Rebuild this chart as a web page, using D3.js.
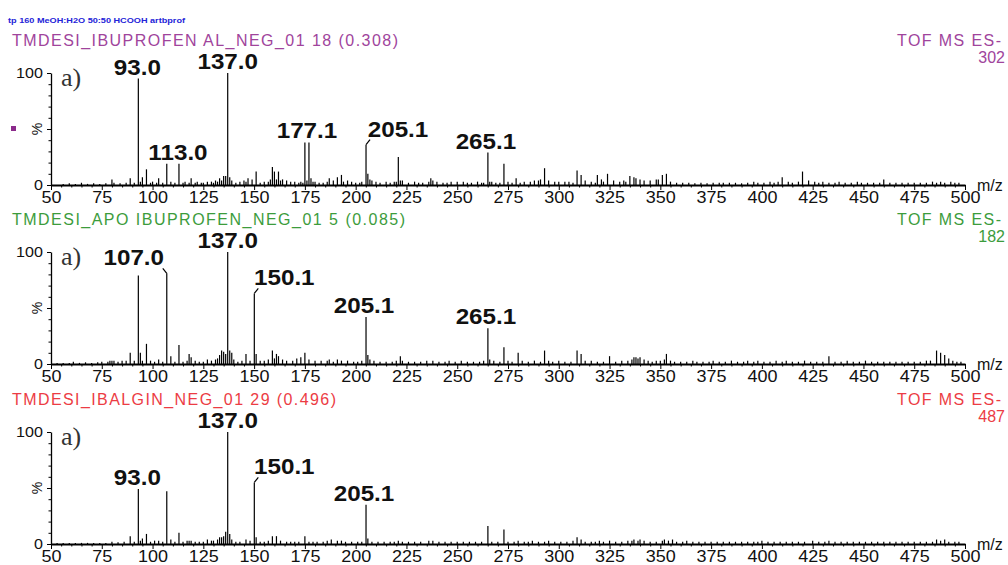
<!DOCTYPE html>
<html>
<head>
<meta charset="utf-8">
<script src="https://cdn.jsdelivr.net/npm/d3@7"></script>
<style>
  body { margin: 0; background: #fff; }
  svg { display: block; }
</style>
</head>
<body>
<div id="chart"></div>
<script>
// ---- data: [m/z, relative intensity %] ----
const peaks1 = [
  [56,1],[59,1.5],[62,1],[65,2],[68,1],[71,1.5],[74,1],[77,1.5],[80,5],[81,2],[84,1.5],[87,2],[89,6],[91,2],
  [93,95],[94,3],[95,7],[97,14],[99,2],[100,3],[102,2],[103,6],[105,2],[107,19],[109,3],[111,2],[113,19],
  [115,2],[116,3],[118,2],[119,6],[121,2],[122,3],[124,2],[125,2],[127,3],[129,3],[130,2],[131,4],[132,3],
  [133,6],[134,4],[135,8],[136,8],[137,100],[138,7],[139,4],[141,2],[143,3],[145,4],[146,3],[147,6],[149,5],
  [151,12],[153,2],[155,3],[157,3],[158,5],[159,16],[160,12],[161,5],[162,12],[163,4],[164,5],[166,4],
  [168,3],[170,3],[172,2],[173,3],[174,2],[175,38],[176,4],[177,38],[178,6],[179,3],[180,3],[182,2],[184,2],
  [186,3],[187,6],[189,4],[191,7],[193,9],[194,3],[196,4],[198,3],[200,2],[202,2],[203,3],[205.1,36],
  [206,10],[207,5],[208,4],[210,3],[212,2],[215,3],[217,2],[219,3],[220,3],[221,25],[222,4],[223,4],[226,2],
  [229,3],[231,2],[233,2],[236,3],[237,6],[238,4],[240,3],[243,2],[245,2],[247,3],[250,3],[253,3],[255,2],
  [257,2],[260,3],[262,2],[263,2],[265.1,29],[266,3],[267,3],[269,2],[271,2],[273,19],[275,3],[277,2],
  [279,6],[281,2],[283,3],[286,3],[288,4],[290,4],[291,5],[293,15],[295,4],[298,3],[300,3],[303,3],[305,3],
  [307,2],[309,13],[311,9],[313,4],[316,3],[318,2],[319,9],[321,5],[322,3],[324,10],[327,4],[330,3],[332,4],
  [333,3],[335,8],[337,7],[338,6],[340,5],[342,4],[345,4],[348,5],[349,5],[351,9],[353,10],[355,3],[358,2],
  [361,2],[364,2],[367,1.5],[370,2],[373,1.5],[376,2],[379,2],[381,2],[384,2],[387,2],[390,1.5],[393,2],
  [396,3],[398,2],[401,2],[404,3],[406,2],[408,3],[410,7],[413,3],[415,2],[418,3],[420,12],[423,4],[426,3],
  [428,2],[430,3],[433,2],[436,2],[438,3],[441,2],[444,2],[447,3],[449,2],[452,2],[455,2],[458,2],[460,5],
  [463,2],[466,2],[469,2],[472,2],[475,2],[478,2],[481,2],[484,3],[486,2],[488,3],[490,2],[493,3],[495,2],[497,2]
];
const peaks2 = [
  [53,1],[56,1],[59,1],[61,2],[64,1],[67,1.5],[70,1],[73,1.5],[75,2],[78,2],[79,3],[80,3],[81,3],[83,2],
  [85,3],[87,3],[89,10],[91,3],[93,79],[94,10],[95,3],[97,18],[99,3],[101,2],[103,4],[105,2],[107,81],
  [109,7],[111,2],[113,17],[115,2],[117,3],[118,9],[119,6],[121,3],[123,2],[125,2],[127,4],[129,3],[131,4],
  [132,5],[133,8],[134,12],[135,11],[136,9],[137,100],[138,12],[139,10],[140,4],[142,2],[144,3],[146,9],
  [148,3],[150.1,63],[151,9],[153,3],[155,3],[157,4],[159,12],[160,5],[161,9],[162,7],[164,4],[166,3],
  [169,3],[171,5],[173,6],[175,10],[177,4],[180,3],[183,3],[186,3],[187,4],[189,2],[191,4],[193,3],[196,3],
  [199,2],[201,2],[203,3],[205.1,42],[206,8],[207,4],[209,3],[212,2],[215,2],[218,2],[220,3],[222,7],
  [223,3],[226,2],[229,2],[232,2],[235,3],[238,3],[241,2],[244,2],[246,3],[249,2],[252,3],[255,2],[258,2],
  [261,2],[263,3],[265.1,32],[266,4],[268,3],[271,2],[273,15],[275,3],[277,2],[280,10],[282,3],[285,2],
  [288,3],[291,2],[293,12],[295,3],[297,2],[300,3],[303,2],[306,2],[309,12],[311,9],[313,3],[316,3],[319,2],
  [322,2],[325,7],[328,2],[331,3],[334,3],[336,4],[337,6],[338,6],[339,5],[340,6],[342,4],[344,3],[346,2],
  [348,3],[350,3],[352,4],[353,9],[355,3],[357,2],[360,2],[363,2],[366,3],[368,2],[371,2],[374,2],[376,3],
  [379,2],[382,2],[385,3],[388,2],[391,2],[393,3],[396,2],[398,3],[401,2],[404,2],[407,3],[410,2],[412,3],
  [415,2],[418,2],[421,3],[424,2],[427,2],[430,2],[433,7],[436,2],[439,2],[442,3],[445,2],[448,2],[451,3],
  [454,2],[457,2],[460,2],[463,2],[466,2],[469,2],[472,2],[475,2],[478,2],[481,3],[483,3],[486,12],[488,10],
  [490,8],[492,5],[494,3],[496,2],[498,2]
];
const peaks3 = [
  [53,1],[56,1],[59,1],[62,1],[65,1],[68,1],[71,1],[74,1],[77,1],[80,2],[83,1.5],[86,2],[89,7],[91,2],
  [93,49],[94,3],[95,5],[97,9],[99,2],[101,3],[103,3],[105,2],[107,47],[109,4],[111,2],[113,10],[115,2],
  [117,3],[118,3],[119,3],[121,2],[123,2],[125,2],[127,4],[129,3],[130,3],[132,4],[133,6],[134,6],[135,7],
  [136,11],[137,100],[138,9],[139,4],[141,2],[143,2],[146,4],[148,3],[150.1,55],[151,6],[153,2],[155,2],
  [157,3],[159,7],[161,7],[163,3],[166,2],[168,2],[170,2],[172,2],[175,7],[177,2],[179,2],[181,2],[184,2],
  [186,3],[188,4],[191,3],[193,3],[195,2],[198,2],[201,2],[203,2],[205.1,35],[206,5],[208,2],[211,2],[214,2],
  [217,2],[219,2],[221,3],[223,2],[226,2],[229,2],[232,2],[236,3],[238,3],[241,2],[244,2],[247,2],[250,2],
  [253,2],[256,2],[259,2],[262,2],[265.1,16],[267,2],[270,2],[273,13],[275,2],[278,2],[280,3],[283,2],
  [285,2],[287,3],[290,2],[293,2],[295,3],[298,2],[301,2],[304,2],[307,3],[309,6],[311,4],[313,2],[316,2],
  [318,2],[320,3],[322,2],[325,3],[328,2],[331,2],[334,3],[336,3],[337,4],[339,3],[340,4],[342,3],[345,2],
  [348,2],[351,3],[352,4],[354,3],[356,4],[358,2],[361,2],[363,3],[366,2],[369,2],[372,2],[375,2],[378,2],
  [381,2],[384,2],[387,2],[390,2],[393,2],[396,2],[398,2],[400,3],[403,2],[406,2],[409,2],[412,2],[415,2],
  [418,2],[421,2],[425,3],[428,2],[431,2],[433,3],[436,2],[439,2],[442,2],[445,2],[448,2],[451,2],[454,2],
  [457,2],[460,2],[463,2],[466,2],[469,2],[472,2],[475,2],[478,2],[481,2],[484,2],[486,4],[488,3],[490,4],
  [492,2],[495,2],[497,2]
];

// labelled peaks: [m/z of peak, label text]
const labels1 = [[93,"93.0"],[113,"113.0"],[137,"137.0"],[177,"177.1"],[205.1,"205.1"],[265.1,"265.1"]];
const labels2 = [[107,"107.0"],[137,"137.0"],[150.1,"150.1"],[205.1,"205.1"],[265.1,"265.1"]];
const labels3 = [[93,"93.0"],[137,"137.0"],[150.1,"150.1"],[205.1,"205.1"]];

const titles = [
  "TMDESI_IBUPROFEN AL_NEG_01 18 (0.308)",
  "TMDESI_APO IBUPROFEN_NEG_01 5 (0.085)",
  "TMDESI_IBALGIN_NEG_01 29 (0.496)"
];
const scanMode = "TOF MS ES-";
const scaleMax = ["302", "182", "487"];
const xTicks = [50,75,100,125,150,175,200,225,250,275,300,325,350,375,400,425,450,475,500];
const header = "tp 160 MeOH:H2O 50:50 HCOOH artbprof";

// ---- layout ----
const svgWidth = 1008, svgHeight = 565;
const plotH = 112;
const panelTops = [73, 252, 432];
const titleWidths = [386, 393, 324];
const titleColors = ["#a0449c", "#3c9c3c", "#ec3c44"];
const labelShifts = [[-1,-1,0,-2,32,-2], [-33,0,30,-2,-2], [-1,0,30,-2]];
const sans = "'Liberation Sans', Arial, sans-serif";

const svg = d3.select("#chart").append("svg")
  .attr("width", svgWidth).attr("height", svgHeight);

const x = d3.scaleLinear().domain([50, 500]).range([51, 965]);

svg.append("text")
  .attr("x", 8).attr("y", 23)
  .attr("textLength", 177).attr("lengthAdjust", "spacingAndGlyphs")
  .style("font", "bold 8px " + sans).attr("fill", "#2323d8")
  .text(header);

const panels = [
  { peaks: peaks1, labels: labels1 },
  { peaks: peaks2, labels: labels2 },
  { peaks: peaks3, labels: labels3 }
];

panels.forEach(function (p, i) {
  const top = panelTops[i];
  const y = d3.scaleLinear().domain([0, 100]).range([top + plotH, top]);
  const g = svg.append("g");
  const col = titleColors[i];

  // titles
  g.append("text")
    .attr("x", 12).attr("y", top - 27)
    .attr("textLength", titleWidths[i]).attr("lengthAdjust", "spacing")
    .style("font", "16px " + sans).attr("fill", col)
    .text(titles[i]);
  g.append("text")
    .attr("x", 1001).attr("y", top - 27).attr("text-anchor", "end")
    .attr("textLength", 104).attr("lengthAdjust", "spacing")
    .style("font", "16px " + sans).attr("fill", col)
    .text(scanMode);
  g.append("text")
    .attr("x", 1005).attr("y", top - 10).attr("text-anchor", "end")
    .style("font", "16px " + sans).attr("fill", col)
    .text(scaleMax[i]);

  // stick spectrum
  g.selectAll("line.peak")
    .data(p.peaks)
    .enter()
    .append("line")
    .attr("class", "peak")
    .attr("x1", (d) => x(d[0])).attr("x2", (d) => x(d[0]))
    .attr("y1", y(0)).attr("y2", (d) => y(d[1]))
    .attr("stroke", "#000").attr("stroke-width", 1.2);

  // x axis: minor then major
  g.append("g")
    .attr("transform", "translate(0," + y(0) + ")")
    .call(d3.axisBottom(x).tickValues(d3.range(50, 501, 5).filter((v) => v % 25 !== 0))
      .tickSize(2.5).tickSizeOuter(0).tickFormat(""))
    .call((a) => a.select(".domain").remove());
  const xa = g.append("g")
    .attr("transform", "translate(0," + y(0) + ")")
    .call(d3.axisBottom(x).tickValues(xTicks).tickSize(5).tickSizeOuter(0).tickPadding(1)
      .tickFormat(d3.format("d")));
  xa.select(".domain").attr("stroke-width", 2);
  xa.selectAll("text")
    .style("font", "17px " + sans).attr("fill", "#111")
    .attr("transform", "scale(1.06,1)");
  g.append("text")
    .attr("x", 977).attr("y", y(0) + 6)
    .style("font", "16px " + sans).attr("fill", "#111")
    .text("m/z");

  // y axis
  g.append("g")
    .attr("transform", "translate(51,0)")
    .call(d3.axisLeft(y).tickValues(d3.range(10, 100, 10).filter((v) => v !== 50))
      .tickSize(2.5).tickSizeOuter(0).tickFormat(""))
    .call((a) => a.select(".domain").remove());
  const ya = g.append("g")
    .attr("transform", "translate(51,0)")
    .call(d3.axisLeft(y).tickValues([0, 50, 100]).tickSize(4).tickSizeOuter(0)
      .tickFormat((d) => (d === 50 ? "" : d)));
  ya.select(".domain").attr("stroke-width", 1.3);
  ya.selectAll("text")
    .style("font", "14px " + sans).attr("fill", "#111")
    .attr("transform", "scale(1.15,1)");
  g.append("text")
    .attr("transform", "translate(37," + y(50) + ") rotate(-90)")
    .attr("text-anchor", "middle").attr("dominant-baseline", "central")
    .style("font", "14px " + sans).attr("fill", "#111")
    .text("%");

  g.append("text")
    .attr("x", 61).attr("y", y(100) + 13)
    .style("font", "26px 'Liberation Serif', 'Times New Roman', serif").attr("fill", "#333")
    .text("a)");

  // peak labels with leader hooks
  const lookup = new Map(p.peaks.map((d) => [d[0], d[1]]));
  p.labels.forEach(function (l, j) {
    const shift = labelShifts[i][j];
    const px = x(l[0]);
    const pt = y(lookup.get(l[0]));
    let base = pt - 4;
    if (Math.abs(shift) > 10) {
      const s = Math.sign(shift);
      g.append("path")
        .attr("d", d3.line()([[px, pt], [px + s * 4, pt - 5]]))
        .attr("stroke", "#000").attr("stroke-width", 1.2).attr("fill", "none");
      base = pt - 8;
    }
    g.append("text")
      .attr("transform", "translate(" + (px + shift) + "," + base + ") scale(1.1,1)")
      .attr("text-anchor", "middle")
      .style("font", "bold 22px " + sans).attr("fill", "#111")
      .text(l[1]);
  });
});

// small marker to the left of the first panel
svg.append("rect")
  .attr("x", 11).attr("y", 126).attr("width", 5).attr("height", 5)
  .attr("fill", "#8b2a8b");
</script>
</body>
</html>
